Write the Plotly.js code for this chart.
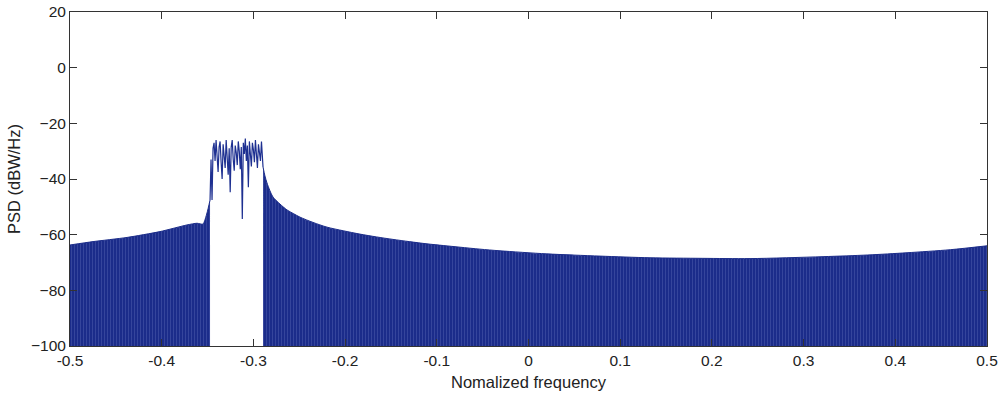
<!DOCTYPE html>
<html>
<head>
<meta charset="utf-8">
<script src="https://cdn.plot.ly/plotly-3.0.1.min.js"></script>
<style>
html,body{margin:0;padding:0;background:#fff;}
#chart{width:1002px;height:403px;}
</style>
</head>
<body>
<div id="chart"></div>
<script>
// Left out-of-band envelope (normalized frequency, dBW/Hz)
const leftX = [-0.5, -0.4749, -0.4378, -0.4019, -0.3724, -0.3615, -0.355, -0.3506, -0.3473];
const leftY = [-63.7, -62.5, -61.0, -58.9, -56.5, -55.9, -56.2, -52.2, -47.6];

// In-band noisy PSD
const bandX = [-0.3473, -0.3462, -0.3451, -0.3440, -0.3429, -0.3418, -0.3407, -0.3396, -0.3385, -0.3374,
               -0.3363, -0.3352, -0.3341, -0.3330, -0.3319, -0.3308, -0.3297, -0.3286, -0.3275, -0.3264,
               -0.3253, -0.3242, -0.3231, -0.3220, -0.3209, -0.3198, -0.3187, -0.3176, -0.3165, -0.3154,
               -0.3143, -0.3132, -0.3121, -0.3110, -0.3099, -0.3088, -0.3077, -0.3066, -0.3055, -0.3044,
               -0.3033, -0.3022, -0.3011, -0.3000, -0.2989, -0.2978, -0.2967, -0.2956, -0.2945, -0.2934,
               -0.2923, -0.2912, -0.2901, -0.2895];
const bandY = [-47.6, -33.0, -47.5, -29.0, -27.0, -33.5, -26.0, -31.0, -37.5, -28.5,
               -26.5, -34.0, -40.0, -27.5, -31.0, -36.0, -26.0, -32.0, -38.5, -29.0,
               -44.8, -28.5, -26.0, -33.0, -37.0, -28.0, -30.5, -35.0, -26.5, -30.0,
               -36.5, -28.5, -54.4, -27.0, -31.0, -25.5, -33.5, -28.0, -43.0, -26.5,
               -31.5, -35.5, -27.0, -29.5, -34.0, -26.0, -31.0, -36.0, -27.5, -30.0,
               -33.5, -26.5, -31.0, -35.7];

// Right out-of-band envelope
const rightX = [-0.2895, -0.2874, -0.2852, -0.2820, -0.2786, -0.2710, -0.2634, -0.2560, -0.2492, -0.2350,
                -0.2197, -0.2020, -0.1838, -0.1660, -0.1478, -0.1300, -0.1107, -0.0930, -0.0747, -0.0530,
                -0.0311, 0.020, 0.078, 0.1325, 0.190, 0.2416, 0.3212, 0.370, 0.4128, 0.460, 0.5];
const rightY = [-35.7, -38.9, -41.4, -44.2, -46.5, -49.0, -51.1, -52.5, -53.7, -55.6,
                -57.3, -58.6, -59.8, -60.8, -61.7, -62.5, -63.3, -63.9, -64.5, -65.2,
                -65.8, -66.9, -67.7, -68.3, -68.5, -68.6, -67.9, -67.3, -66.5, -65.4, -64.0];

const yMin = -100, yMax = 20;
const xTicks = [-0.5, -0.4, -0.3, -0.2, -0.1, 0, 0.1, 0.2, 0.3, 0.4, 0.5];
const xTickText = ['-0.5', '-0.4', '-0.3', '-0.2', '-0.1', '0', '0.1', '0.2', '0.3', '0.4', '0.5'];
const yTicks = [20, 0, -20, -40, -60, -80, -100];

const blue = 'rgb(27,44,138)';
const stripe = 'rgb(62,78,162)';

const pattern = {shape: '|', size: 3, solidity: 0.25, fgcolor: stripe, bgcolor: blue, fillmode: 'replace'};

const traces = [
  {x: leftX, y: leftX.map(() => yMin), mode: 'lines', line: {width: 0, color: blue}, hoverinfo: 'skip', showlegend: false},
  {x: leftX, y: leftY, mode: 'lines', fill: 'tonexty', fillcolor: blue, fillpattern: pattern,
   line: {width: 1, color: blue, shape: 'spline', smoothing: 0.6}, showlegend: false},
  {x: rightX, y: rightX.map(() => yMin), mode: 'lines', line: {width: 0, color: blue}, hoverinfo: 'skip', showlegend: false},
  {x: rightX, y: rightY, mode: 'lines', fill: 'tonexty', fillcolor: blue, fillpattern: pattern,
   line: {width: 1, color: blue, shape: 'spline', smoothing: 0.8}, showlegend: false},
  {x: bandX, y: bandY, mode: 'lines', line: {width: 1.2, color: 'rgb(30,48,145)'}, showlegend: false}
];

const axisCommon = {
  showline: true, linecolor: '#333', linewidth: 1, mirror: 'ticks',
  ticks: 'inside', ticklen: 7, tickcolor: '#333', tickwidth: 1,
  showgrid: false, zeroline: false,
  tickfont: {family: 'Liberation Sans, Arial, sans-serif', size: 15.5, color: '#222'}
};

const layout = {
  width: 1002, height: 403,
  margin: {l: 70, r: 15, t: 12, b: 57},
  paper_bgcolor: '#fff', plot_bgcolor: '#fff',
  font: {family: 'Liberation Sans, Arial, sans-serif', size: 15.5, color: '#222'},
  xaxis: Object.assign({}, axisCommon, {
    range: [-0.5, 0.5], tickvals: xTicks, ticktext: xTickText,
    title: {text: 'Nomalized frequency', font: {size: 16.5, color: '#222'}, standoff: 8}
  }),
  yaxis: Object.assign({}, axisCommon, {
    range: [yMin, yMax], tickvals: yTicks,
    title: {text: 'PSD (dBW/Hz)', font: {size: 16.5, color: '#222'}, standoff: 6}
  })
};

Plotly.newPlot('chart', traces, layout, {displayModeBar: false, staticPlot: true});
</script>
</body>
</html>
